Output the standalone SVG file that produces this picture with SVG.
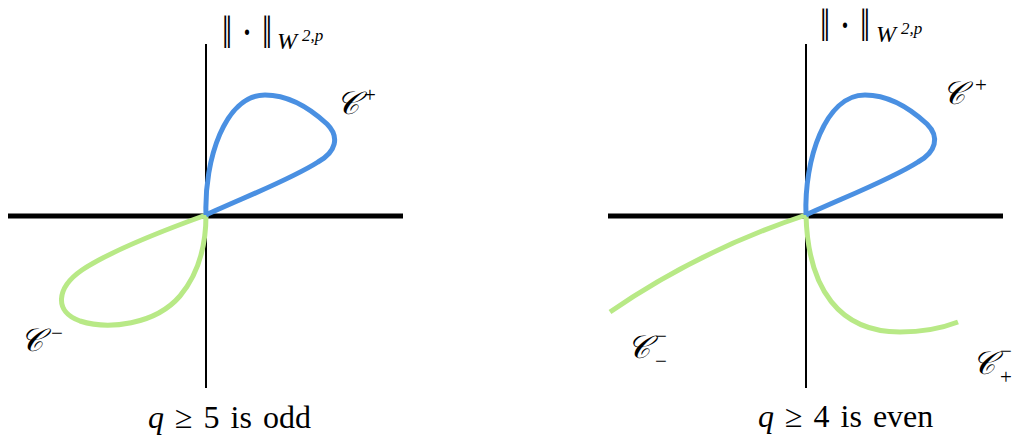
<svg xmlns="http://www.w3.org/2000/svg" width="1015" height="441" viewBox="0 0 1015 441">
<style>
.hax{stroke:#000;stroke-width:5;fill:none}
.vax{stroke:#000;stroke-width:2;fill:none}
.blue{stroke:#4A90E2;stroke-width:5;fill:none;stroke-linejoin:round}
.green{stroke:#B8E986;stroke-width:5;fill:none;stroke-linejoin:round}
.lab{font-family:"Liberation Serif",serif;font-size:32px;word-spacing:3px;fill:#000}
.norm{font-family:"Liberation Serif",serif;font-size:36px;fill:#000}
.it{font-style:italic}
.scr{font-family:"DejaVu Serif",serif;font-style:italic;font-size:32px;fill:#000}
.sup{font-family:"Liberation Serif",serif;font-size:21px;fill:#000}
.sub{font-family:"Liberation Serif",serif;font-size:24px;font-style:italic;fill:#000}
.sub2{font-family:"Liberation Serif",serif;font-size:17px;font-style:italic;fill:#000}
</style>
<rect width="1015" height="441" fill="#fff"/>
<g id="left-panel">
  <g id="left-axes">
    <line class="hax" x1="8" y1="216" x2="403" y2="216"/>
    <line class="vax" x1="206" y1="44" x2="206" y2="388"/>
  </g>
  <g id="left-curves">
    <path class="green" d="M206,215 C170,228 112,250 82,270 C56,288 54,312 80,321 C108,330 155,325 180,296 C200,272 206,242 206,215"/>
    <path class="blue" d="M206,215 C204,160 225,95 265,95 C292,95 314,112 327,124 C340,137 336,152 318,162 C290,180 240,199 206,215"/>
  </g>
  <g id="left-labels">
    <text class="norm" transform="translate(222,48) scale(1,1.3)">‖ · ‖</text>
    <text class="sub" x="277" y="49">W</text>
    <text class="sub2" x="302" y="41">2,p</text>
    <text class="scr" x="336" y="114">𝒞</text>
    <text class="sup" x="364" y="102">+</text>
    <text class="scr" x="20" y="351">𝒞</text>
    <text class="sup" x="51" y="340">−</text>
    <text class="lab" x="148" y="428"><tspan class="it">q</tspan> ≥ 5 is odd</text>
  </g>
</g>
<g id="right-panel">
  <g id="right-axes">
    <line class="hax" x1="608" y1="216" x2="1003" y2="216"/>
    <line class="vax" x1="806" y1="44" x2="806" y2="388"/>
  </g>
  <g id="right-curves">
    <path class="green" d="M806,215 Q700,250 610,312"/>
    <path class="green" d="M806,215 C808,290 840,332 900,332 C925,332 945,327 958,322"/>
    <path class="blue" d="M806,215 C804,160 825,95 865,95 C892,95 914,112 927,124 C940,137 936,152 918,162 C890,180 840,199 806,215"/>
  </g>
  <g id="right-labels">
    <text class="norm" transform="translate(820,41) scale(1,1.3)">‖ · ‖</text>
    <text class="sub" x="876" y="42">W</text>
    <text class="sub2" x="901" y="34">2,p</text>
    <text class="scr" x="942" y="104">𝒞</text>
    <text class="sup" x="975" y="92">+</text>
    <text class="scr" x="627" y="358">𝒞</text>
    <text class="sup" x="655" y="343">−</text>
    <text class="sup" x="655" y="368">−</text>
    <text class="scr" x="972" y="374">𝒞</text>
    <text class="sup" x="1000" y="358">−</text>
    <text class="sup" x="1000" y="384">+</text>
    <text class="lab" x="758" y="427"><tspan class="it">q</tspan> ≥ 4 is even</text>
  </g>
</g>
</svg>
